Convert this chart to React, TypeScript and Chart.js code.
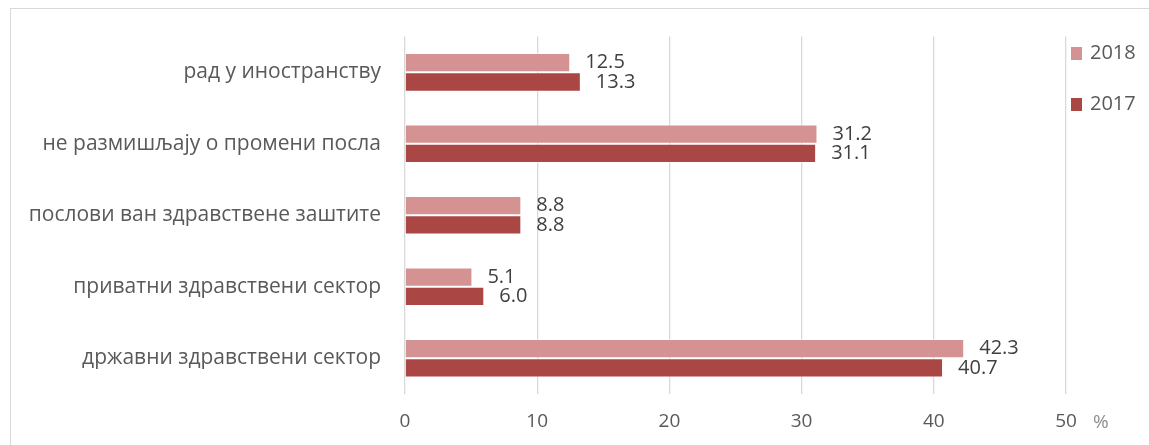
import React, { useEffect, useRef } from "react";
import { Chart, registerables } from "chart.js";

Chart.register(...registerables);

const categories = [
  "рад у иностранству",
  "не размишљају о промени посла",
  "послови ван здравствене заштите",
  "приватни здравствени сектор",
  "државни здравствени сектор",
];
const values2018 = [12.5, 31.2, 8.8, 5.1, 42.3];
const values2017 = [13.3, 31.1, 8.8, 6.0, 40.7];
const seriesNames = ["2018", "2017"];
const colors = ["#D49392", "#AA4745"];
const xTicks = [0, 10, 20, 30, 40, 50];

const FONT = "'Open Sans', 'Noto Sans', sans-serif";

const extrasPlugin = {
  id: "extras",
  afterDatasetsDraw(chart: any) {
    const ctx = chart.ctx;
    ctx.save();
    // data labels
    ctx.font = `20px ${FONT}`;
    ctx.fillStyle = "#404040";
    ctx.textAlign = "left";
    ctx.textBaseline = "middle";
    chart.data.datasets.forEach((ds: any, di: number) => {
      const meta = chart.getDatasetMeta(di);
      meta.data.forEach((bar: any, i: number) => {
        const v = ds.data[i] as number;
        ctx.fillText(v.toFixed(1), bar.x + 15, bar.y);
      });
    });
    // % unit
    const xs = chart.scales.x;
    ctx.fillStyle = "#8c8c8c";
    ctx.font = `19px ${FONT}`;
    ctx.textAlign = "left";
    ctx.fillText("%", xs.right + 27, 423);
    // legend
    const legendY = [53, 104];
    seriesNames.forEach((name, i) => {
      ctx.fillStyle = colors[i];
      ctx.fillRect(1071, legendY[i] - 6, 11, 13);
      ctx.fillStyle = "#595959";
      ctx.font = `20px ${FONT}`;
      ctx.textBaseline = "middle";
      ctx.fillText(name, 1090, legendY[i]);
    });
    ctx.restore();
  },
};

export default function App() {
  const ref = useRef<HTMLCanvasElement | null>(null);
  useEffect(() => {
    document.body.style.margin = "0";
    const chart = new Chart(ref.current as HTMLCanvasElement, {
      type: "bar",
      data: {
        labels: categories,
        datasets: [
          {
            label: seriesNames[0],
            data: values2018,
            backgroundColor: colors[0],
            borderColor: "rgba(255,255,255,0.5)",
            borderWidth: 1,
            categoryPercentage: 0.54,
            barPercentage: 1.0,
          },
          {
            label: seriesNames[1],
            data: values2017,
            backgroundColor: colors[1],
            borderColor: "rgba(255,255,255,0.5)",
            borderWidth: 1,
            categoryPercentage: 0.54,
            barPercentage: 1.0,
          },
        ],
      },
      options: {
        indexAxis: "y",
        responsive: false,
        animation: false,
        layout: { padding: { left: 0, right: 83, top: 36, bottom: 0 } },
        plugins: {
          legend: { display: false },
          tooltip: { enabled: false },
        },
        scales: {
          x: {
            min: 0,
            max: 50,
            afterBuildTicks: (s: any) => {
              s.ticks = xTicks.map((v) => ({ value: v }));
            },
            afterFit: (s: any) => {
              s.height = 51;
            },
            grid: { color: "#d9d9d9", drawTicks: false, lineWidth: 1.3 },
            border: { display: false },
            ticks: {
              padding: 16,
              color: "#595959",
              font: { family: FONT, size: 19 },
            },
          },
          y: {
            afterFit: (s: any) => {
              s.width = 405;
            },
            grid: { display: false, drawTicks: false },
            border: { display: false },
            ticks: {
              padding: 24,
              color: "#595959",
              font: { family: FONT, size: 21 },
            },
          },
        },
      },
      plugins: [extrasPlugin],
    } as any);
    return () => chart.destroy();
  }, []);
  return (
    <div style={{ position: "relative", width: 1149, height: 445, overflow: "hidden", background: "#fff" }}>
      <div
        style={{
          position: "absolute",
          left: 10,
          top: 8,
          width: 1200,
          height: 500,
          border: "1px solid #d9d9d9",
          borderWidth: 1.5,
        }}
      />
      <canvas ref={ref} width={1149} height={445} style={{ position: "absolute", left: 0, top: 0 }} />
    </div>
  );
}
